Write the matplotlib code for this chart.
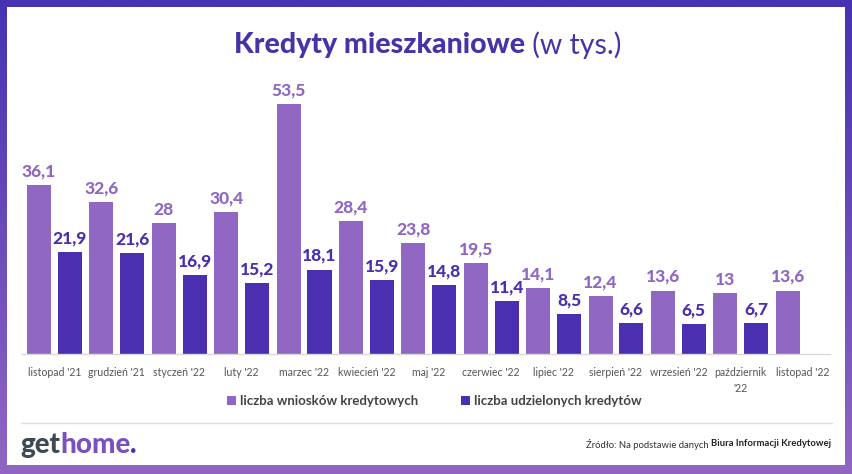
import numpy as np
import matplotlib
matplotlib.use("Agg")
import matplotlib.pyplot as plt
from matplotlib.patches import Rectangle
from matplotlib.colors import LinearSegmentedColormap

months = ["listopad '21", "grudzień '21", "styczeń '22", "luty '22", "marzec '22",
          "kwiecień '22", "maj '22", "czerwiec '22", "lipiec '22", "sierpień '22",
          "wrzesień '22", "październik\n'22", "listopad '22"]
wnioski = [36.1, 32.6, 28, 30.4, 53.5, 28.4, 23.8, 19.5, 14.1, 12.4, 13.6, 13, 13.6]
udzielone = [21.9, 21.6, 16.9, 15.2, 18.1, 15.9, 14.8, 11.4, 8.5, 6.6, 6.5, 6.7]

LIGHT = "#9068C4"
DARK = "#4A30B0"
FONT = ["Lato", "DejaVu Sans"]

W, H = 852, 474
fig = plt.figure(figsize=(W / 100, H / 100), dpi=100)

# gradient frame
bg = fig.add_axes([0, 0, 1, 1])
bg.set_axis_off()
cmap = LinearSegmentedColormap.from_list("g", ["#4632B2", "#9066C2"])
grad = np.linspace(0, 1, 256).reshape(-1, 1)
bg.imshow(grad, cmap=cmap, aspect="auto", extent=[0, W, H, 0])
bg.add_patch(Rectangle((7, 7), 845 - 7, 465 - 7, facecolor="white", edgecolor="none"))
bg.plot([21, 832], [423, 423], color="#dddddd", lw=1)
bg.set_xlim(0, W)
bg.set_ylim(H, 0)

# title
tb = bg.text(426, 45, "Kredyty mieszkaniowe", color="#4633A8", fontsize=20.5,
             fontweight="black", family=FONT, ha="left", va="center")
tl = bg.text(0, 45, " (w tys.)", color="#4633A8", fontsize=20.5, fontweight="normal",
             family=FONT, ha="left", va="center")
fig.canvas.draw()
wb = tb.get_window_extent().width
wl = tl.get_window_extent().width
left = 428 - (wb + wl) / 2
tb.set_x(left)
tl.set_x(left + wb)

# main axes
ax_left, ax_right = 22, 830
ax_top, ax_bottom = 80, 354
ax = fig.add_axes([ax_left / W, 1 - ax_bottom / H, (ax_right - ax_left) / W, (ax_bottom - ax_top) / H])
ax.set_facecolor("none")
n = len(months)
x = np.arange(n)
off = 0.248
bw = 0.385
ax.bar(x - off, wnioski, width=bw, color=LIGHT, zorder=2)
ax.bar(x[:len(udzielone)] + off, udzielone, width=bw, color=DARK, zorder=2)

def fmt(v):
    return f"{v:g}".replace(".", ",")

for xi, v in zip(x - off, wnioski):
    ax.annotate(fmt(v), (xi, v), xytext=(0, 4), textcoords="offset points",
                ha="center", va="bottom", color=LIGHT, fontsize=12.5,
                fontweight="black", family=FONT)
for xi, v in zip(x[:len(udzielone)] + off, udzielone):
    ax.annotate(fmt(v), (xi, v), xytext=(0, 4), textcoords="offset points",
                ha="center", va="bottom", color=DARK, fontsize=12.5,
                fontweight="black", family=FONT)

ax.set_xlim(-0.52, 12.43)
ax.set_ylim(0, 58.7)
ax.set_yticks([])
ax.set_xticks(x)
ax.set_xticklabels(months, fontsize=7.6, color="#555555", family=FONT, linespacing=1.6)
ax.tick_params(axis="x", length=0, pad=9)
for s in ["top", "right", "left"]:
    ax.spines[s].set_visible(False)
ax.spines["bottom"].set_color("#d9d9d9")
ax.spines["bottom"].set_linewidth(1)

# legend
bg.add_patch(Rectangle((227, 396), 9, 9, facecolor=LIGHT, edgecolor="none"))
bg.text(240, 401, "liczba wniosków kredytowych", fontsize=9.5, fontweight="bold",
        color="#444444", family=FONT, va="center", ha="left")
bg.add_patch(Rectangle((461, 396), 9, 9, facecolor=DARK, edgecolor="none"))
bg.text(474, 401, "liczba udzielonych kredytów", fontsize=9.5, fontweight="bold",
        color="#444444", family=FONT, va="center", ha="left")

# logo
g = bg.text(20, 445, "get", fontsize=20, fontweight="black", color="#3D4A52",
            family=FONT, va="center", ha="left")
fig.canvas.draw()
gx = 20 + g.get_window_extent().width
h = bg.text(gx, 445, "home", fontsize=20, fontweight="black", color="#7A50BE",
            family=FONT, va="center", ha="left")
fig.canvas.draw()
hx = gx + h.get_window_extent().width
bg.text(hx, 445, ".", fontsize=20, fontweight="black", color="#4A30B0",
        family=FONT, va="center", ha="left")

# source
s2 = bg.text(831, 444, "Biura Informacji Kredytowej", fontsize=6.8, fontweight="bold",
             color="#222222", family=FONT, va="center", ha="right")
fig.canvas.draw()
sx = 831 - s2.get_window_extent().width
bg.text(sx, 444, "Źródło: Na podstawie danych ", fontsize=6.8, color="#333333",
        family=FONT, va="center", ha="right")

fig.savefig("out.png", dpi=100)
